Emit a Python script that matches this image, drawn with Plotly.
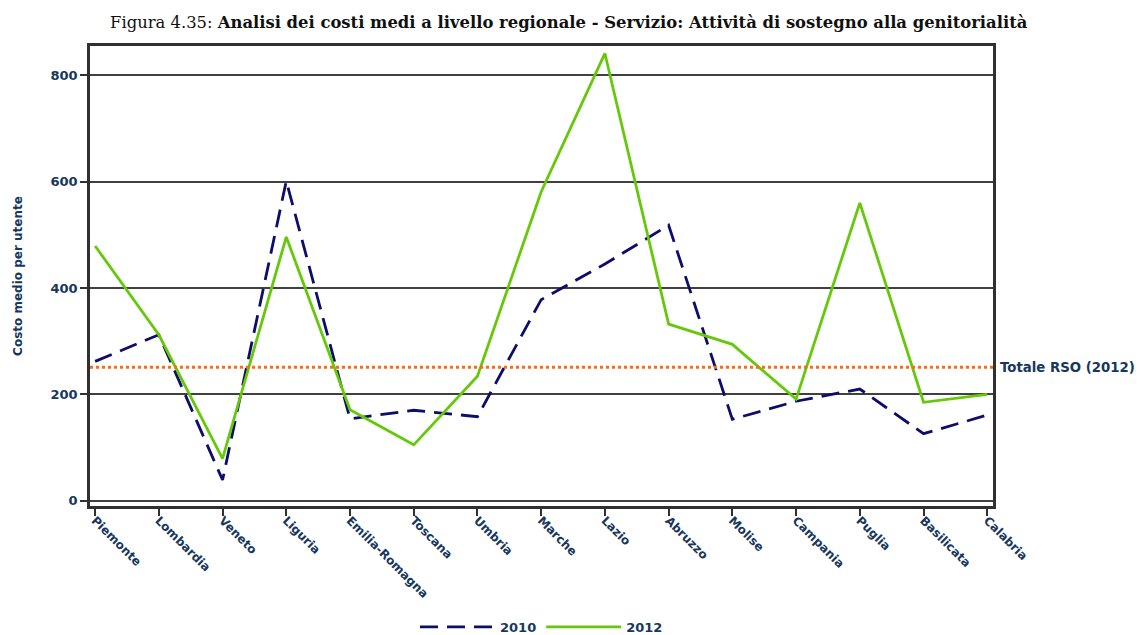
import plotly.graph_objects as go

# regions on the x axis
regioni = ['Piemonte', 'Lombardia', 'Veneto', 'Liguria', 'Emilia-Romagna', 'Toscana',
           'Umbria', 'Marche', 'Lazio', 'Abruzzo', 'Molise', 'Campania', 'Puglia',
           'Basilicata', 'Calabria']
# average cost per user
costi_2010 = [262, 312, 39, 601, 154, 170, 158, 378, 445, 518, 153, 187, 210, 126, 161]
costi_2012 = [479, 312, 79, 496, 171, 105, 234, 581, 841, 332, 294, 191, 560, 185, 200]
# national reference line
totale_rso_2012 = 251

navy = '#17375e'
font_axes = 'DejaVu Sans'

fig = go.Figure()
fig.add_trace(go.Scatter(x=regioni, y=costi_2010, mode='lines', name='2010',
                         line=dict(color='#0d0d6b', width=2.8, dash='18px,9px')))
fig.add_trace(go.Scatter(x=regioni, y=costi_2012, mode='lines', name='2012',
                         line=dict(color='#66c80a', width=2.8)))

# total RSO line across the whole plot
fig.add_shape(type='line', xref='paper', x0=0, x1=1, y0=totale_rso_2012, y1=totale_rso_2012,
              line=dict(color='#ff6a13', width=3, dash='dot'), layer='above')
fig.add_annotation(xref='paper', x=1.006, y=totale_rso_2012, text='Totale RSO (2012)',
                   showarrow=False, xanchor='left', yanchor='middle',
                   font=dict(family=font_axes, size=13.3, color=navy, weight='bold'))

# page body has an 8px margin, so the figure is a bit smaller than the window
fig.update_layout(
    title=dict(text='Figura 4.35: <b>Analisi dei costi medi a livello regionale - Servizio: Attività di sostegno alla genitorialità</b>',
               x=0.494, xanchor='center', y=0.977, yanchor='middle',
               font=dict(family='DejaVu Serif', size=16.4, color='#111111')),
    width=1135, height=627,
    margin=dict(l=82, r=150, t=38, b=129, autoexpand=False),
    plot_bgcolor='white', paper_bgcolor='white',
    showlegend=True,
    legend=dict(orientation='h', x=0.5, xanchor='center', y=-0.263, yanchor='middle',
                font=dict(family=font_axes, size=13, color=navy, weight='bold'), itemwidth=75),
    xaxis=dict(range=[-0.08, 14.09], tickangle=45, showgrid=False, automargin=False,
               showline=True, linecolor='#303030', linewidth=2.5, mirror=True,
               ticks='outside', ticklen=7, tickcolor='#303030', tickwidth=2,
               ticklabelstandoff=-7,
               tickfont=dict(family=font_axes, size=12, color=navy, weight='bold')),
    yaxis=dict(range=[-10, 855], tickvals=[0, 200, 400, 600, 800], automargin=False,
               showgrid=True, gridcolor='#404040', gridwidth=1.5, zeroline=False,
               showline=True, linecolor='#303030', linewidth=2.5, mirror=True,
               ticks='outside', ticklen=7, tickcolor='#303030', tickwidth=2,
               tickfont=dict(family=font_axes, size=13, color=navy, weight='bold'),
               title=dict(text='Costo medio per utente', standoff=26,
                          font=dict(family=font_axes, size=12, color=navy, weight='bold'))),
)

fig.write_html("out.html")
